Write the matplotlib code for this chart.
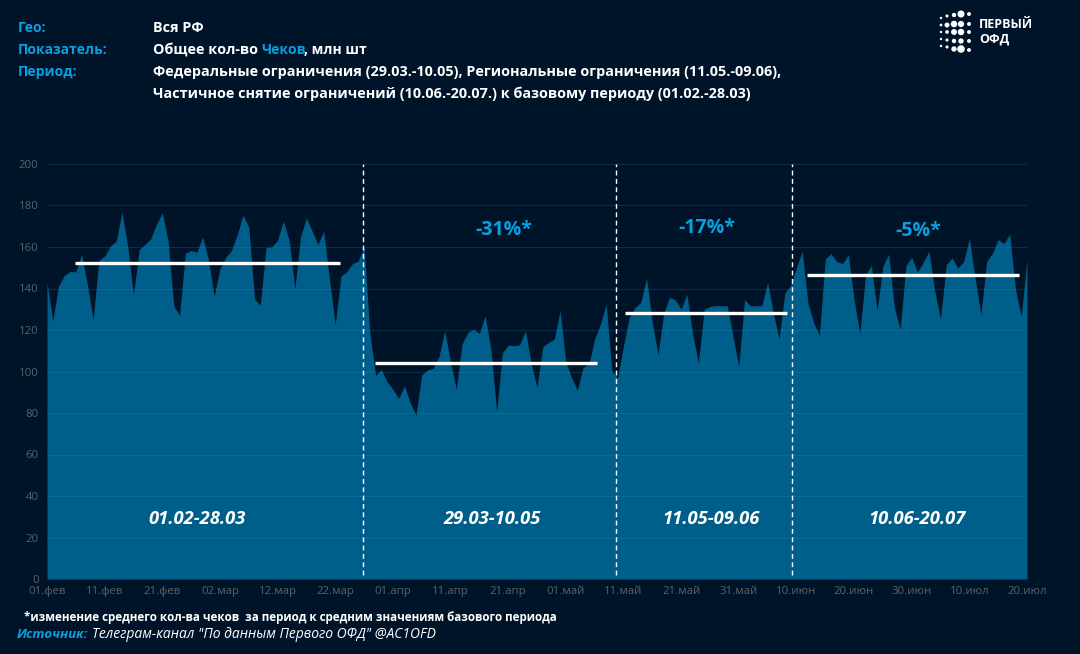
import matplotlib
matplotlib.use("Agg")
import matplotlib.pyplot as plt
import numpy as np

W, H = 1080, 654
BG = "#001429"
FILL = "#005f8a"
CYAN = "#0a9fe0"
plt.rcParams['font.family'] = ['Open Sans', 'DejaVu Sans']

# значения по дням, 01.02 - 20.07
cheki = [143, 124.3, 141, 146.3, 148.2, 148, 156.4, 142, 125, 153.5,
         155.6, 160.4, 162.8, 176.8, 160.4, 137, 158.8, 161.2, 164, 171,
         176.5, 162.8, 131.5, 127, 157, 158.3, 157.5, 164.8, 154, 136.3,
         149.5, 155, 158.3, 166, 175.3, 169.7, 135, 132, 159.8, 160,
         163.3, 172.5, 163.3, 140, 165.2, 174, 167.6, 161.2, 167.6, 144.4,
         122.7, 146, 148, 152, 153.2, 160.4, 118.7, 98.2, 101, 95,
         91.5, 87, 93, 85, 79, 98.3, 100.7, 101.5, 107.3, 119.6,
         104.4, 91.5, 113.2, 118.8, 120.4, 118.3, 126.8, 110.8, 80.6, 108.9,
         112.7, 112.4, 112.9, 119.6, 103.6, 92.3, 112, 114, 115.6, 129.2,
         104.4, 97, 91, 102, 103.6, 115.6, 122.8, 132.5, 100, 97,
         112.4, 126, 130.9, 133.3, 145, 123.6, 108, 128.4, 135.7, 134.5,
         130, 137.3, 118, 104.2, 129.8, 131.4, 131.7, 131.7, 131.7, 117,
         102.5, 134.6, 131.7, 131.7, 131.7, 143, 128, 115.7, 137.9, 141.5,
         150, 158, 133, 123.4, 117.5, 154.2, 156.8, 153, 152, 156.3,
         134.6, 118.3, 146.7, 151, 129.5, 150.7, 156.6, 130.6, 120.5, 151,
         155, 147.8, 152.6, 158, 138.7, 125.3, 151.5, 154.7, 150, 152.8,
         164, 145, 127.4, 153, 157, 163.5, 161.6, 166.3, 139.5, 126.6, 154]
tick_labels = ["01.фев", "11.фев", "21.фев", "02.мар", "12.мар", "22.мар", "01.апр", "11.апр", "21.апр",
               "01.май", "11.май", "21.май", "31.май", "10.июн", "20.июн", "30.июн", "10.июл", "20.июл"]
y_ticks = [0, 20, 40, 60, 80, 100, 120, 140, 160, 180, 200]

# средние по периодам: начало, конец (номер дня), значение
mean_start = [4.9, 56.9, 100.3, 131.8]
mean_end = [50.9, 95.4, 128.4, 168.6]
mean_val = [152.5, 104, 128, 146.3]
borders = [54.8, 98.7, 129.3]
period_names = ["01.02-28.03", "29.03-10.05", "11.05-09.06", "10.06-20.07"]
period_x = [26.1, 77.3, 115.2, 151]
changes = ["-31%*", "-17%*", "-5%*"]
change_x = [79.3, 114.4, 151.1]
change_y = [168.1, 169.1, 167.7]

# логотип: x, y, размер точки
logo_x = [941, 941, 941, 941, 941, 947, 947, 947, 947, 947, 954, 954, 954, 954, 954, 961, 961, 961, 961, 961, 969, 969, 969, 969, 969]
logo_y = [18, 25, 32, 39, 46, 16, 25, 32, 40, 47, 15, 24, 32, 41, 49, 14, 24, 32, 41, 49, 14, 24, 32, 41, 50]
logo_s = [3, 4, 3, 3, 3, 5, 13, 7, 5, 5, 10, 22, 18, 10, 15, 26, 20, 22, 15, 30, 8, 8, 8, 8, 8]

fig = plt.figure(figsize=(W / 100, H / 100), dpi=100, facecolor=BG)
ax = fig.add_axes([47 / W, 1 - 579 / H, 980 / W, 415 / H], facecolor=BG)
days = np.arange(len(cheki))

ax.fill_between(days, cheki, 0, color=FILL, lw=0, zorder=2)
for y in y_ticks:
    ax.axhline(y, color="#2a9fd6", lw=0.8, alpha=0.18, zorder=3)

for b in borders:
    ax.plot([b, b], [2, 200], color="white", lw=1, ls=(0, (3.5, 2.5)), zorder=5)
for x0, x1, v in zip(mean_start, mean_end, mean_val):
    ax.plot([x0, x1], [v, v], color="white", lw=2.4, solid_capstyle="butt", zorder=6)

for x, name in zip(period_x, period_names):
    ax.text(x, 29, name, color="white", fontsize=13.2, fontweight="bold", style="italic", ha="center", va="center", zorder=7)
for x, y, t in zip(change_x, change_y, changes):
    ax.text(x, y, t, color=CYAN, fontsize=14, fontweight="bold", ha="center", va="center", zorder=7)

ax.set_xlim(0, 170)
ax.set_ylim(0, 200)
ax.set_xticks(np.arange(0, 171, 10))
ax.set_xticklabels(tick_labels)
ax.set_yticks(y_ticks)
ax.tick_params(length=0, colors="#5c6066", labelsize=8.2, pad=6)
ax.tick_params(axis="x", pad=5)
for s in ax.spines.values():
    s.set_visible(False)


def txt(x, y, s, **kw):
    # координаты в пикселях картинки
    kw.setdefault("color", "white")
    kw.setdefault("fontsize", 10.35)
    kw.setdefault("fontweight", "bold")
    fig.text(x / W, 1 - y / H, s, va="center", ha=kw.pop("ha", "left"), **kw)


txt(18, 28, "Гео:", color=CYAN, fontsize=10)
txt(18, 50, "Показатель:", color=CYAN, fontsize=10)
txt(18, 72, "Период:", color=CYAN, fontsize=10)
txt(153, 28, "Вся РФ")
txt(153, 50, "Общее кол-во")
txt(261, 50, "Чеков", color=CYAN, fontsize=10)
txt(304, 50, ", млн шт", fontsize=10)
txt(153, 72, "Федеральные ограничения (29.03.-10.05), Региональные ограничения (11.05.-09.06),")
txt(153, 94, "Частичное снятие ограничений (10.06.-20.07.) к базовому периоду (01.02.-28.03)")

txt(24, 617, "*изменение среднего кол-ва чеков  за период к средним значениям базового периода", fontsize=8.35)
txt(17, 635, "Источник:", color=CYAN, fontsize=9.5, style="italic")
txt(92, 635, "Телеграм-канал \"По данным Первого ОФД\" @AC1OFD", fontsize=10, style="italic", fontweight="normal")

# логотип
logo_ax = fig.add_axes([0, 0, 1, 1], facecolor="none")
logo_ax.set_xlim(0, W)
logo_ax.set_ylim(H, 0)
logo_ax.axis("off")
logo_ax.scatter(logo_x, logo_y, s=logo_s, color="white", lw=0)
txt(979, 25, "ПЕРВЫЙ", fontsize=9)
txt(979, 39, "ОФД", fontsize=9)

fig.savefig("out.png", dpi=100, facecolor=BG)
